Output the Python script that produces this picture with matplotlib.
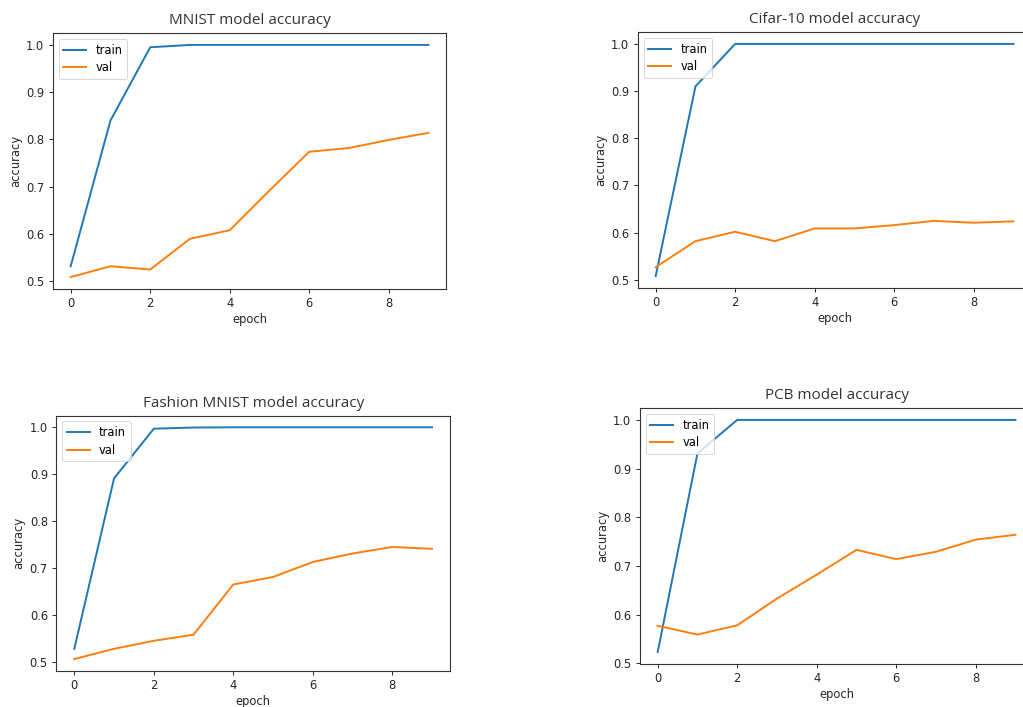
import numpy as np
import matplotlib
matplotlib.use("Agg")
import matplotlib.pyplot as plt

epochs = list(range(10))

mnist_train = [0.532, 0.840, 0.995, 1.0, 1.0, 1.0, 1.0, 1.0, 1.0, 1.0]
mnist_val = [0.509, 0.532, 0.525, 0.590, 0.608, 0.692, 0.774, 0.782, 0.799, 0.814]

cifar_train = [0.508, 0.910, 1.0, 1.0, 1.0, 1.0, 1.0, 1.0, 1.0, 1.0]
cifar_val = [0.527, 0.582, 0.602, 0.582, 0.609, 0.609, 0.616, 0.625, 0.621, 0.624]

fashion_train = [0.528, 0.891, 0.997, 0.9995, 1.0, 1.0, 1.0, 1.0, 1.0, 1.0]
fashion_val = [0.506, 0.528, 0.545, 0.558, 0.665, 0.681, 0.713, 0.731, 0.745, 0.741]

pcb_train = [0.523, 0.931, 1.0, 1.0, 1.0, 1.0, 1.0, 1.0, 1.0, 1.0]
pcb_val = [0.577, 0.559, 0.578, 0.633, 0.682, 0.733, 0.714, 0.729, 0.754, 0.764]

titles = ['MNIST model accuracy', 'Cifar-10 model accuracy',
          'Fashion MNIST model accuracy', 'PCB model accuracy']

W, H = 1023, 707
fig = plt.figure(figsize=(W / 100, H / 100), dpi=100)

# pixel boxes (left, top, width, height)
boxes = [(52.8, 33.3, 393.5, 255.4),
         (637.8, 32.3, 393.5, 255.4),
         (56.4, 415.7, 393.5, 255.0),
         (639.8, 408.3, 393.5, 255.4)]
data = [(mnist_train, mnist_val), (cifar_train, cifar_val),
        (fashion_train, fashion_val), (pcb_train, pcb_val)]

for (l, t, w, h), (tr, va), title in zip(boxes, data, titles):
    ax = fig.add_axes([l / W, 1 - (t + h) / H, w / W, h / H])
    ax.plot(epochs, tr, color='#1f77b4', lw=1.4, label='train')
    ax.plot(epochs, va, color='#ff7f0e', lw=1.4, label='val')
    ax.set_title(title, fontsize=11, family='Open Sans', color='#333333', pad=6.5)
    ax.set_xlabel('epoch', fontsize=8.3, color='#262626', labelpad=2)
    ax.set_ylabel('accuracy', fontsize=8.3, color='#262626', labelpad=3)
    ax.set_xticks([0, 2, 4, 6, 8])
    ax.set_yticks([0.5, 0.6, 0.7, 0.8, 0.9, 1.0])
    ax.tick_params(labelsize=8.3, width=0.7, length=2.6, colors='#262626')
    for s in ax.spines.values():
        s.set_linewidth(0.8)
        s.set_color('#333333')
    leg = ax.legend(loc='upper left', fontsize=8.3, framealpha=0.8,
                    handlelength=2.0, borderpad=0.4, labelspacing=0.4)
    leg.get_frame().set_linewidth(0.7)

fig.savefig('out.png', dpi=100)
